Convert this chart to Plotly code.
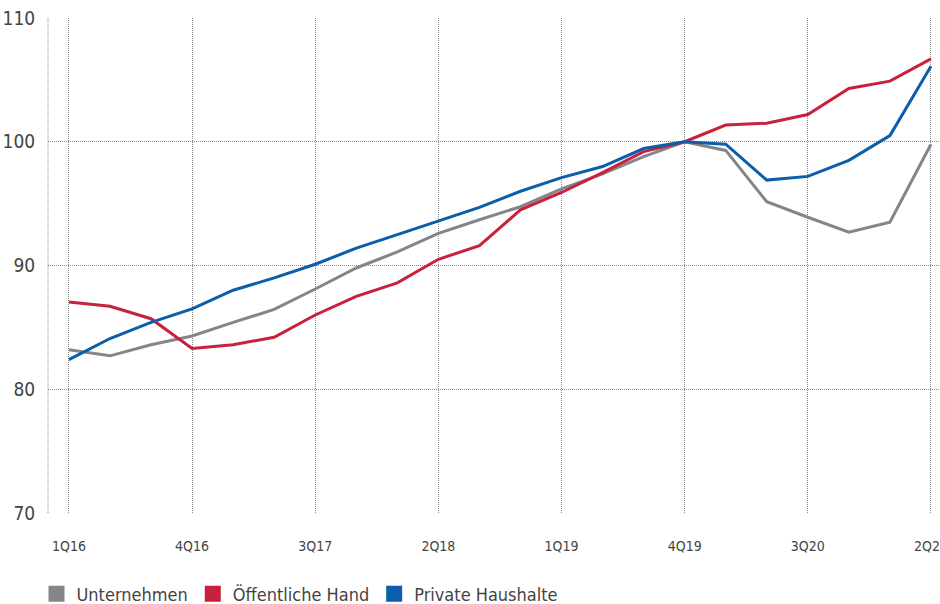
import plotly.graph_objects as go

quarters = ["1Q16","2Q16","3Q16","4Q16","1Q17","2Q17","3Q17","4Q17","1Q18","2Q18","3Q18",
            "4Q18","1Q19","2Q19","3Q19","4Q19","1Q20","2Q20","3Q20","4Q20","1Q21","2Q21"]

unternehmen = [83.2, 82.7, 83.6, 84.3, 85.4, 86.45, 88.1, 89.8, 91.1, 92.6, 93.7,
               94.75, 96.2, 97.4, 98.8, 100.0, 99.3, 95.15, 93.9, 92.7, 93.5, 99.8]
oeffentliche = [87.05, 86.7, 85.7, 83.3, 83.6, 84.2, 86.0, 87.5, 88.6, 90.5, 91.6,
                94.5, 95.9, 97.5, 99.2, 100.0, 101.35, 101.5, 102.2, 104.3, 104.9, 106.7]
private = [82.4, 84.1, 85.4, 86.5, 88.0, 89.0, 90.1, 91.4, 92.5, 93.6, 94.7,
           96.0, 97.1, 98.0, 99.45, 100.0, 99.8, 96.9, 97.2, 98.5, 100.5, 106.1]

series = [("Unternehmen", unternehmen, "#858589"),
          ("Öffentliche Hand", oeffentliche, "#c8213b"),
          ("Private Haushalte", private, "#0a5eab")]

y_ticks = [70, 80, 90, 100, 110]
tick_idx = list(range(0, 22, 3))
FONT = "DejaVu Sans Condensed, DejaVu Sans, sans-serif"
GRID = "#8a8a8a"

fig = go.Figure()
x = list(range(len(quarters)))
for name, vals, col in series:
    fig.add_trace(go.Scatter(x=x, y=vals, mode="lines", name=name,
                             line=dict(color=col, width=3), showlegend=False,
                             hoverinfo="x+y"))
for name, vals, col in series:
    fig.add_trace(go.Scatter(x=[None], y=[None], mode="markers", name=name,
                             marker=dict(symbol="square", size=16, color=col)))

fig.update_layout(
    width=940, height=604,
    margin=dict(l=48, r=0, t=18, b=91, autoexpand=False),
    paper_bgcolor="white", plot_bgcolor="white",
    font=dict(family=FONT, color="#444444"),
    legend=dict(orientation="h", x=-0.0129, xanchor="left", y=-0.1637, yanchor="middle",
                font=dict(size=18, color="#444444"), itemwidth=30,
                tracegroupgap=0),
    showlegend=True,
)
fig.update_xaxes(range=[-0.51, 21.22], tickvals=tick_idx,
                 ticktext=[quarters[i] for i in tick_idx],
                 showgrid=True, gridcolor=GRID, griddash="1px,1px", gridwidth=1,
                 zeroline=False, showline=False, ticks="outside", ticklen=20,
                 tickcolor="rgba(0,0,0,0)", tickfont=dict(size=14, color="#444444"),
                 automargin=False, ticklabeloverflow="allow")
fig.update_yaxes(range=[70, 110], tickvals=y_ticks,
                 showgrid=True, gridcolor=GRID, griddash="1px,1px", gridwidth=1,
                 zeroline=False, showline=False, ticks="outside", ticklen=8,
                 tickcolor="rgba(0,0,0,0)", tickfont=dict(size=19, color="#444444"),
                 automargin=False)
fig.add_shape(type="line", xref="paper", yref="paper", x0=0, x1=0, y0=0, y1=1,
              line=dict(color=GRID, width=1, dash="1px,1px"), layer="below")

fig.write_html("out.html", config={"displayModeBar": False},
               post_script="document.body.style.margin='0';document.body.style.overflow='hidden';")
